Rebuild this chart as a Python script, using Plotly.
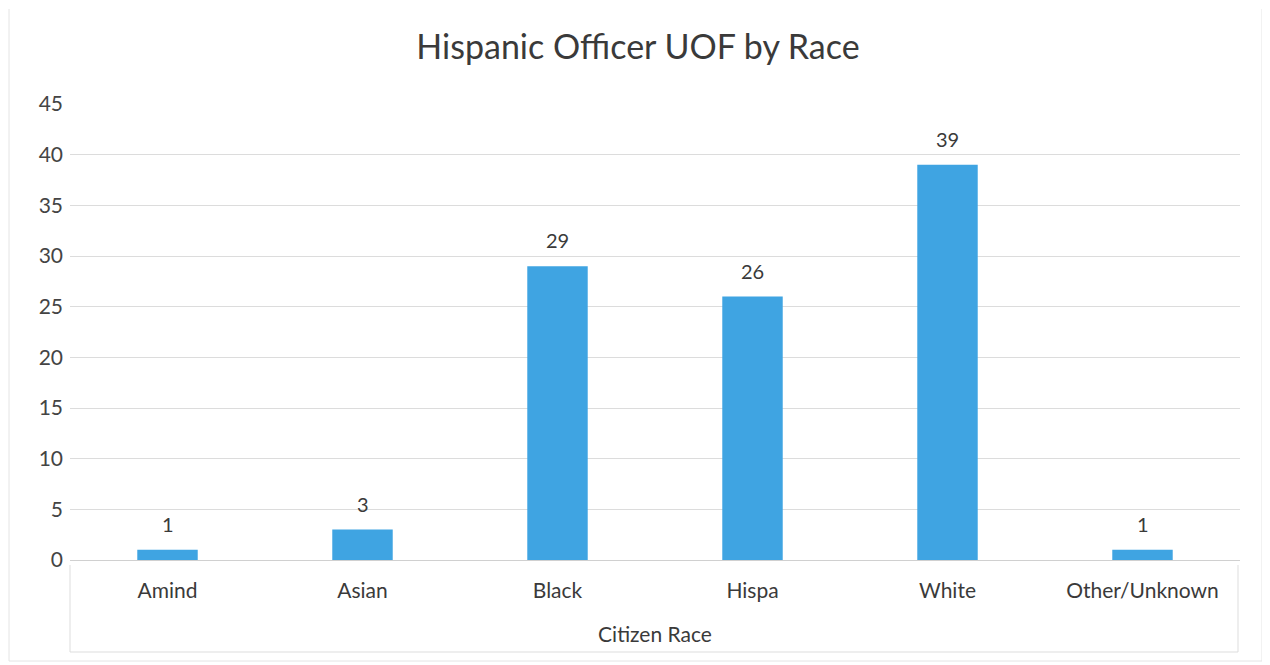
import plotly.graph_objects as go

categories = ["Amind", "Asian", "Black", "Hispa", "White", "Other/Unknown"]
values = [1, 3, 29, 26, 39, 1]
y_ticks = [0, 5, 10, 15, 20, 25, 30, 35, 40, 45]

FONT = "Lato"
OFF = 8  # page body margin
W, H = 1270, 665
L, R, T, B = 70 - OFF, 38, 104 - OFF, 113
pw, ph = W - L - R, H - T - B

def px(sx):
    return (sx - OFF - L) / pw

def py(sy):
    return (OFF + H - B - sy) / ph

fig = go.Figure(go.Bar(
    x=categories, y=values,
    marker=dict(color="#3FA4E2", line=dict(width=0)),
    width=0.31,
))

for c, v in zip(categories, values):
    fig.add_annotation(x=c, y=v, text=str(v), showarrow=False, yanchor="bottom", yshift=12,
                       font=dict(family=FONT, size=20, color="#3a3a3a"))

line_in = dict(color="#DDDDDD", width=1)
line_out = dict(color="#E4E4E4", width=1)
shapes = [
    dict(type="line", xref="paper", yref="paper", x0=px(70), x1=px(70), y0=py(565), y1=py(652), line=line_in),
    dict(type="line", xref="paper", yref="paper", x0=px(1238), x1=px(1238), y0=py(565), y1=py(652), line=line_in),
    dict(type="line", xref="paper", yref="paper", x0=px(70), x1=px(1238), y0=py(652), y1=py(652), line=line_in),
    dict(type="line", xref="paper", yref="paper", x0=px(9), x1=px(9), y0=py(9), y1=py(661), line=line_out),
    dict(type="line", xref="paper", yref="paper", x0=px(1262), x1=px(1262), y0=py(9), y1=py(661), line=line_out),
    dict(type="line", xref="paper", yref="paper", x0=px(9), x1=px(1262), y0=py(661), y1=py(661), line=line_out),
]

fig.update_layout(
    width=W, height=H,
    margin=dict(l=L, r=R, t=T, b=B),
    paper_bgcolor="white", plot_bgcolor="white",
    title=dict(text="Hispanic Officer UOF by Race", x=px(638), xref="paper", xanchor="center",
               y=1 - (47 - OFF) / H, yanchor="middle",
               font=dict(family=FONT, size=34, color="#3a3a3a")),
    showlegend=False,
    shapes=shapes,
    xaxis=dict(
        tickfont=dict(family=FONT, size=21, color="#3a3a3a"),
        title=dict(text="Citizen Race", font=dict(family=FONT, size=21, color="#3a3a3a"), standoff=26),
        showgrid=False, showline=False, ticks="", ticklabelstandoff=16,
    ),
    yaxis=dict(
        range=[0, 45], tickvals=y_ticks,
        tickfont=dict(family=FONT, size=21, color="#444444"),
        showgrid=True, gridcolor="#DCDCDC", gridwidth=1,
        zeroline=True, zerolinecolor="#D0D0D0", zerolinewidth=1,
        showline=False, ticks="", ticklabelstandoff=6,
    ),
)

fig.write_html("out.html")
